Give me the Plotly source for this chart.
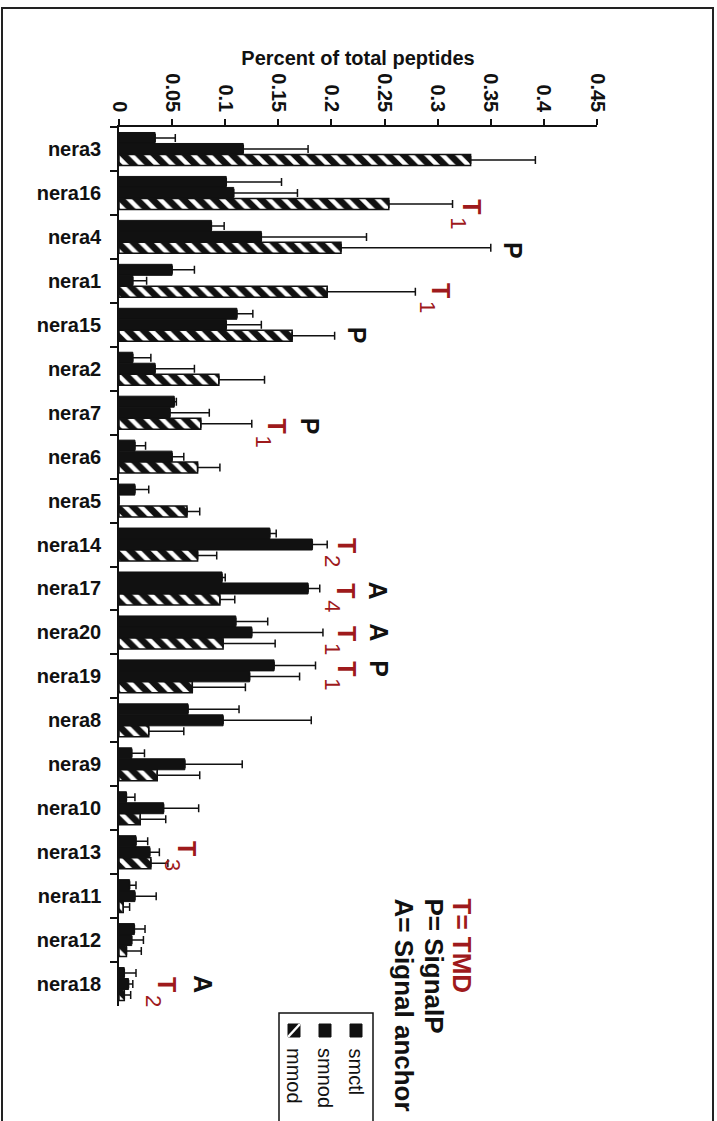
import plotly.graph_objects as go

# ---------------- data ----------------
categories = ["nera3", "nera16", "nera4", "nera1", "nera15", "nera2", "nera7", "nera6",
              "nera5", "nera14", "nera17", "nera20", "nera19", "nera8", "nera9", "nera10",
              "nera13", "nera11", "nera12", "nera18"]

smctl = [0.034, 0.101, 0.087, 0.050, 0.111, 0.013, 0.052, 0.015, 0.015, 0.142,
         0.097, 0.110, 0.146, 0.065, 0.012, 0.007, 0.016, 0.010, 0.0145, 0.005]
smctl_err = [0.019, 0.052, 0.012, 0.021, 0.015, 0.017, 0.002, 0.010, 0.013, 0.006,
             0.003, 0.030, 0.039, 0.048, 0.012, 0.008, 0.011, 0.006, 0.010, 0.011]

smnod = [0.117, 0.108, 0.134, 0.013, 0.101, 0.034, 0.048, 0.050, 0.0, 0.182,
         0.178, 0.125, 0.123, 0.098, 0.062, 0.042, 0.029, 0.015, 0.012, 0.009]
smnod_err = [0.061, 0.060, 0.099, 0.013, 0.033, 0.037, 0.037, 0.011, 0.0, 0.014,
             0.011, 0.067, 0.047, 0.083, 0.054, 0.033, 0.009, 0.020, 0.011, 0.004]

mmod = [0.331, 0.254, 0.209, 0.196, 0.163, 0.094, 0.077, 0.074, 0.064, 0.074,
        0.095, 0.098, 0.069, 0.028, 0.036, 0.020, 0.030, 0.004, 0.007, 0.005]
mmod_err = [0.061, 0.060, 0.141, 0.083, 0.040, 0.043, 0.048, 0.021, 0.012, 0.018,
            0.014, 0.049, 0.050, 0.033, 0.040, 0.024, 0.016, 0.006, 0.014, 0.006]

series_names = ["smctl", "smnod", "mmod"]
tick_vals = [0, 0.05, 0.1, 0.15, 0.2, 0.25, 0.3, 0.35, 0.4, 0.45]
tick_labels = ["0", "0.05", "0.1", "0.15", "0.2", "0.25", "0.3", "0.35", "0.4", "0.45"]
x_title = "Percent of total peptides"

# feature marks: (category, letter, subscript)
feature_marks = [
    ("nera16", "T", "1"), ("nera4", "P", ""), ("nera1", "T", "1"), ("nera15", "P", ""),
    ("nera7", "T", "1"), ("nera7", "P", ""), ("nera14", "T", "2"), ("nera17", "T", "4"),
    ("nera17", "A", ""), ("nera20", "T", "1"), ("nera20", "A", ""), ("nera19", "T", "1"),
    ("nera19", "P", ""), ("nera13", "T", "3"), ("nera18", "T", "2"), ("nera18", "A", ""),
]
key_lines = [("T= TMD", "red"), ("P= SignalP", "black"), ("A= Signal anchor", "black")]

# ---------------- layout / styling ----------------
W, H = 717, 1121
PX_L, PX_R, PX_T, PX_B = 119, 597, 127, 1006
FONT = "Liberation Sans, Arial, sans-serif"
RED = "#9e1a1c"
BLACK = "#111111"

# annotation placement (x in data units, y offset in category units)
mark_pos = [(0.332, 0.32), (0.371, 0.30), (0.303, 0.23), (0.224, 0.25),
            (0.149, 0.30), (0.180, 0.30), (0.214, 0.02), (0.214, 0.05),
            (0.244, 0.05), (0.214, 0.02), (0.244, 0.00), (0.214, -0.18),
            (0.244, -0.18), (0.064, -0.07), (0.045, 0.02), (0.079, 0.00)]


def pp(x, y):
    return (x - PX_L) / (PX_R - PX_L), (PX_B - y) / (PX_B - PX_T)


fig = go.Figure()
vals = [smctl, smnod, mmod]
errs = [smctl_err, smnod_err, mmod_err]
for i, name in enumerate(series_names):
    marker = dict(color=BLACK, line=dict(color=BLACK, width=1))
    if name == "mmod":
        marker = dict(color=BLACK, line=dict(color=BLACK, width=1.5),
                      pattern=dict(shape="\\", fgcolor="white", bgcolor=BLACK,
                                   size=11, solidity=0.4, fillmode="replace"))
    fig.add_trace(go.Bar(
        y=categories, x=vals[i], name=name, orientation="h", marker=marker,
        error_x=dict(type="data", symmetric=False, array=errs[i],
                     arrayminus=[0] * len(errs[i]), color=BLACK,
                     thickness=1.5, width=4),
        showlegend=False, hoverinfo="skip",
    ))

annotations = []
for (cat, letter, sub), (xv, dy) in zip(feature_marks, mark_pos):
    idx = categories.index(cat)
    color = RED if letter == "T" else BLACK
    annotations.append(dict(
        x=xv, y=idx + dy, xref="x", yref="y", text=letter, showarrow=False,
        textangle=90, font=dict(family=FONT, size=25, color=color, weight="bold"),
        xanchor="center", yanchor="middle"))
    if sub:
        annotations.append(dict(
            x=xv, y=idx + dy, xref="x", yref="y", text=sub, showarrow=False,
            xshift=-14, yshift=-16, textangle=90,
            font=dict(family=FONT, size=22, color=RED),
            xanchor="center", yanchor="middle"))

# key text (rotated)
key_x = [462, 434, 404]
for (txt, col), kx in zip(key_lines, key_x):
    x, y = pp(kx, 896)
    annotations.append(dict(
        x=x, y=y, xref="paper", yref="paper", text=txt, showarrow=False,
        textangle=90, font=dict(family=FONT, size=26, color=RED if col == "red" else BLACK,
                                weight="bold"),
        xanchor="center", yanchor="top"))

# legend (rotated, drawn manually)
shapes = []
lx0, ly0 = pp(279, 1013)
lx1, ly1 = pp(373, 1135)
shapes.append(dict(type="rect", xref="paper", yref="paper", x0=lx0, x1=lx1, y0=ly0, y1=ly1,
                   line=dict(color=BLACK, width=1.5), fillcolor="white", layer="above"))
leg_x = [356, 325, 294]
for name, cx in zip(series_names, leg_x):
    sx0, sy0 = pp(cx - 6, 1024)
    sx1, sy1 = pp(cx + 6, 1037)
    shapes.append(dict(type="rect", xref="paper", yref="paper", x0=sx0, x1=sx1,
                       y0=sy1, y1=sy0, line=dict(color=BLACK, width=1),
                       fillcolor=BLACK, layer="above"))
    if name == "mmod":
        shapes.append(dict(type="line", xref="paper", yref="paper", x0=sx0, y0=sy1,
                           x1=sx1, y1=sy0, line=dict(color="white", width=2.5),
                           layer="above"))
    tx, ty = pp(cx, 1046)
    annotations.append(dict(
        x=tx, y=ty, xref="paper", yref="paper", text=name, showarrow=False,
        textangle=90, font=dict(family=FONT, size=20, color=BLACK),
        xanchor="center", yanchor="top"))

# outer frame
fx0, fy0 = pp(2, 1140)
fx1, fy1 = pp(713, 8)
shapes.append(dict(type="rect", xref="paper", yref="paper", x0=fx0, x1=fx1, y0=fy0, y1=fy1,
                   line=dict(color="#222222", width=2), layer="below"))

fig.update_layout(
    width=W, height=H,
    margin=dict(l=PX_L, r=W - PX_R, t=PX_T, b=H - PX_B, pad=0),
    paper_bgcolor="white", plot_bgcolor="white",
    barmode="group", bargap=0.25, bargroupgap=0.0,
    font=dict(family=FONT, color=BLACK),
    annotations=annotations, shapes=shapes,
    xaxis=dict(
        side="top", range=[0, 0.45], tickvals=tick_vals, ticktext=tick_labels,
        tickangle=90, ticks="outside", ticklen=6, tickwidth=1.5, tickcolor=BLACK,
        showline=True, linecolor=BLACK, linewidth=1.5, showgrid=False, zeroline=False,
        tickfont=dict(family=FONT, size=20, color=BLACK, weight="bold"),
        title=dict(text=x_title, standoff=2,
                   font=dict(family=FONT, size=20, color=BLACK, weight="bold")),
    ),
    yaxis=dict(
        type="category", categoryorder="array", categoryarray=categories,
        autorange="reversed", tickson="boundaries", ticks="outside", ticklen=7,
        tickwidth=1.5, tickcolor=BLACK, showline=True, linecolor=BLACK, linewidth=1.5,
        showgrid=False, zeroline=False, ticklabelstandoff=12,
        tickfont=dict(family=FONT, size=20, color=BLACK, weight="bold"),
    ),
)

fig.write_html("out.html", config={"displayModeBar": False},
               post_script="document.body.style.margin='0px';"
                           "document.body.style.overflow='hidden';")
